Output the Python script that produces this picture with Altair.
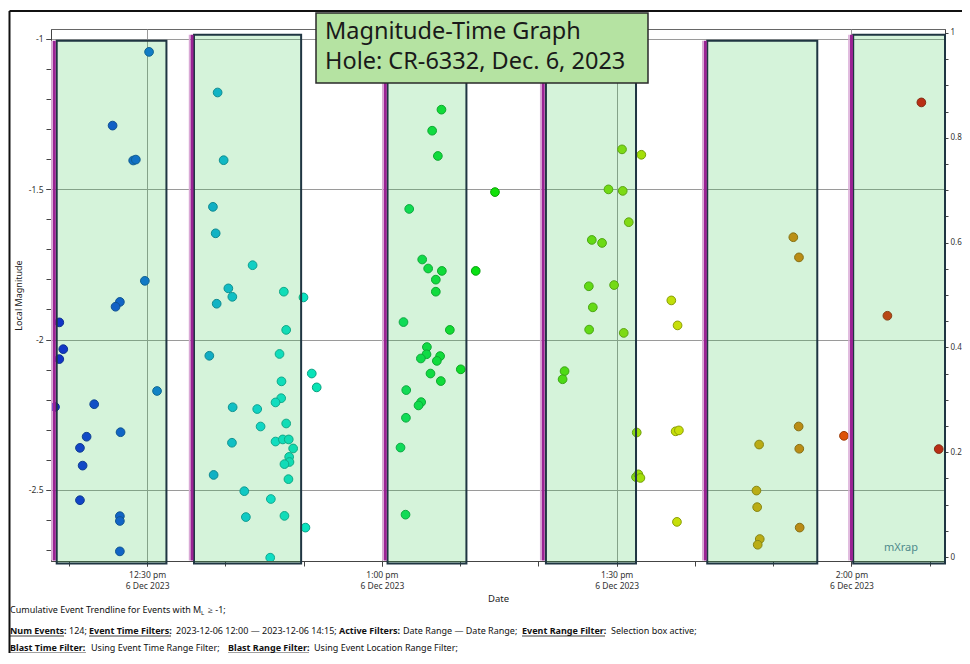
import altair as alt
import pandas as pd

# ---------------- data ----------------
# event times in minutes after 12:00 on 6 Dec 2023, and local magnitudes
event_minutes = [
    30.25, 25.59, 28.22, 28.56, 29.71, 26.52, 25.97, 18.78, 19.29, 18.78, 18.23, 31.27, 23.24,
    26.61, 22.27, 21.42, 21.76, 21.42, 26.52, 26.52, 26.52,
    39.01, 39.78, 38.41, 38.76, 43.48, 40.38, 40.89, 38.89, 47.47, 49.98, 47.77, 37.95, 46.92,
    47.17, 47.13, 46.41, 40.93, 44.07, 44.50, 47.77, 40.84, 46.41, 47.34, 48.10, 48.66, 48.15,
    48.19, 47.55, 48.06, 38.50, 42.42, 45.81, 42.62, 47.55, 45.73, 51.04, 51.67, 50.23,
    67.61, 66.42, 67.15, 63.49, 74.45, 65.15, 65.91, 67.66, 66.89, 66.89, 71.99, 62.76, 68.68,
    65.75, 65.70, 64.98, 67.44, 67.02, 70.08, 66.21, 67.53, 63.11, 65.02, 64.68, 63.07, 62.38, 63.02,
    90.68, 93.15, 88.95, 90.77, 91.54, 86.82, 88.13, 86.44, 89.67, 86.95, 96.98, 86.48, 90.90,
    97.78, 83.34, 83.09, 92.56, 97.53, 97.95, 92.47, 92.77, 93.03, 97.70,
    112.57, 113.29, 128.93, 124.59, 113.25, 113.33, 108.20, 119.04, 131.15, 107.86, 107.95,
    113.38, 108.28, 108.02,
]
event_magnitudes = [
    -1.044, -1.289, -1.405, -1.402, -1.805, -1.875, -1.891, -1.943, -2.032, -2.065, -2.224, -2.171, -2.215,
    -2.308, -2.323, -2.360, -2.419, -2.534, -2.587, -2.603, -2.704,
    -1.179, -1.404, -1.559, -1.647, -1.753, -1.830, -1.858, -1.881, -1.841, -1.860, -1.968, -2.054, -2.048,
    -2.139, -2.195, -2.209, -2.225, -2.231, -2.289, -2.279, -2.343, -2.339, -2.332, -2.332, -2.362, -2.390,
    -2.407, -2.414, -2.464, -2.450, -2.504, -2.530, -2.590, -2.586, -2.725, -2.113, -2.159, -2.625,
    -1.236, -1.306, -1.390, -1.566, -1.510, -1.734, -1.764, -1.772, -1.801, -1.841, -1.772, -1.942, -1.968,
    -2.025, -2.049, -2.063, -2.055, -2.071, -2.099, -2.113, -2.138, -2.168, -2.208, -2.219, -2.260, -2.359, -2.582,
    -1.368, -1.386, -1.501, -1.506, -1.610, -1.669, -1.679, -1.823, -1.819, -1.893, -1.870, -1.967, -1.978,
    -1.953, -2.105, -2.132, -2.309, -2.305, -2.302, -2.457, -2.448, -2.460, -2.606,
    -1.660, -1.727, -1.212, -1.921, -2.289, -2.363, -2.349, -2.320, -2.364, -2.502, -2.557,
    -2.625, -2.663, -2.682,
]

# blast times (magenta lines) and selection boxes (minutes after 12:00)
blast_minutes = [18.14, 35.74, 60.43, 80.61, 101.32, 120.0]
box_start = [18.45, 35.99, 60.72, 80.96, 101.57, 120.22]
box_end = [32.47, 49.68, 70.80, 92.47, 115.63, 131.95]
box_top = [-1.007, -0.987, -1.007, -1.007, -1.007, -0.987]
box_bottom = [-2.744] * 6
blast_bottom = [-2.734] * 6

x_domain = [17.72, 131.95]
y_domain = [-2.736, -0.968]
right_domain = [-0.0076, 1.0076]

x_minor_ticks = [20, 30, 40, 50, 60, 70, 80, 90, 100, 110, 120, 130]
x_label_minutes = [30, 60, 90, 120]
x_time_labels = ["12:30 pm", "1:00 pm", "1:30 pm", "2:00 pm"]
x_date_label = "6 Dec 2023"
y_label_values = [-1.0, -1.5, -2.0, -2.5]
y_minor_ticks = [round(-1.0 - 0.1 * i, 1) for i in range(18)]
right_ticks = [round(0.05 * i, 2) for i in range(21)]

title_lines = ["Magnitude-Time Graph", "Hole: CR-6332, Dec. 6, 2023"]

# ---------------- layout helpers ----------------
PX0, PY0 = 51, 29          # page position of plot origin
FONT = "Noto Sans"
def px(x):
    return x - PX0
def py(y):
    return y - PY0

one = pd.DataFrame({"k": [0]})

events = pd.DataFrame({"t": event_minutes, "mag": event_magnitudes})
boxes = pd.DataFrame({"x1": box_start, "x2": box_end, "y1": box_top, "y2": box_bottom})
blasts = pd.DataFrame({"t": blast_minutes, "top": box_top, "bottom": blast_bottom})

xscale = alt.Scale(domain=x_domain, nice=False, zero=False)
yscale = alt.Scale(domain=y_domain, nice=False, zero=False)

x_label_expr = " : ".join(
    f"datum.value === {m} ? ['{lab}', '{x_date_label}']" for m, lab in zip(x_label_minutes, x_time_labels)
) + " : ''"

x_axis = alt.Axis(
    values=x_label_minutes, labelExpr=x_label_expr, labelOverlap=False, labelFlush=False,
    labelFont=FONT, labelFontSize=8.5, labelLineHeight=11, labelColor="#333", labelPadding=4,
    tickSize=5, tickColor="#444", domainColor="#444", grid=True, gridColor="#9a9a9a",
    title="Date", titleFont=FONT, titleFontSize=9.5, titleFontWeight="normal", titleColor="#222",
    titlePadding=4, orient="bottom",
)
y_axis = alt.Axis(
    values=y_label_values, labelExpr="toString(datum.value)", labelOverlap=False, labelFlush=False,
    labelFont=FONT, labelFontSize=8.5, labelColor="#333", labelPadding=3,
    tickSize=5, tickColor="#444", domainColor="#444", grid=True, gridColor="#9a9a9a",
    title="Local Magnitude", titleFont=FONT, titleFontSize=9, titleFontWeight="normal", titleColor="#222",
    titlePadding=5, orient="left",
)
x_minor_axis = alt.Axis(values=x_minor_ticks, labels=False, grid=False, domain=False, tickSize=5,
                        tickColor="#444", title=None, orient="bottom")
y_minor_axis = alt.Axis(values=y_minor_ticks, labels=False, grid=False, domain=False, tickSize=5,
                        tickColor="#444", title=None, orient="left")

points = alt.Chart(events).mark_circle(size=76, opacity=1, strokeWidth=1, clip=True).encode(
    x=alt.X("t:Q", scale=xscale, axis=x_axis),
    y=alt.Y("mag:Q", scale=yscale, axis=y_axis),
    color=alt.Color("t:Q", scale=alt.Scale(domain=[18, 128.6], range=["hsl(240,92%,47%)", "hsl(0,92%,45%)"],
                                          interpolate="hsl-long", clamp=True), legend=None),
    stroke=alt.Stroke("t:Q", scale=alt.Scale(domain=[18, 128.6], range=["hsl(240,90%,34%)", "hsl(0,90%,32%)"],
                                            interpolate="hsl-long", clamp=True), legend=None),
)

minor = alt.Chart(events).mark_point(opacity=0).encode(
    x=alt.X("t:Q", scale=xscale, axis=x_minor_axis),
    y=alt.Y("mag:Q", scale=yscale, axis=y_minor_axis),
)

rects = alt.Chart(boxes).mark_rect(fill="#2dc346", fillOpacity=0.2, stroke="#1f3542", strokeWidth=2,
                                   strokeOpacity=1).encode(
    x=alt.X("x1:Q", scale=xscale, axis=None), x2="x2:Q",
    y=alt.Y("y1:Q", scale=yscale, axis=None), y2="y2:Q",
)

blast_glow = alt.Chart(blasts).mark_rule(color="#d9a9d6", strokeWidth=1.5, xOffset=-2.5).encode(
    x=alt.X("t:Q", scale=xscale, axis=None), y=alt.Y("top:Q", scale=yscale, axis=None), y2="bottom:Q",
)
blast_lines = alt.Chart(blasts).mark_rule(color="#9a2394", strokeWidth=3).encode(
    x=alt.X("t:Q", scale=xscale, axis=None), y=alt.Y("top:Q", scale=yscale, axis=None), y2="bottom:Q",
)

title_box = alt.Chart(one).mark_rect(fill="#b5e3a2", stroke="#2a2a2a", strokeWidth=1.5).encode(
    x=alt.value(px(316)), x2=alt.value(px(648)), y=alt.value(py(13)), y2=alt.value(py(83)),
)
title_text = [
    alt.Chart(one).mark_text(align="left", baseline="middle", font=FONT, fontSize=23.5, color="#1a1a1a").encode(
        x=alt.value(px(325)), y=alt.value(py(yy)), text=alt.value(t))
    for t, yy in zip(title_lines, [32, 62])
]

watermark = alt.Chart(one).mark_text(align="center", baseline="middle", font=FONT, fontSize=11,
                                     color="#4f8a8c").encode(
    x=alt.value(px(901)), y=alt.value(py(548)), text=alt.value("mXrap"))

frame = [
    alt.Chart(one).mark_rule(color="#111", strokeWidth=2).encode(
        x=alt.value(px(9.5)), x2=alt.value(px(9.5)), y=alt.value(py(11)), y2=alt.value(py(664))),
    alt.Chart(one).mark_rule(color="#111", strokeWidth=2).encode(
        x=alt.value(px(9.5)), x2=alt.value(px(962)), y=alt.value(py(11)), y2=alt.value(py(11))),
]

# footer: (text, page x, page y, weight, underline width)
L1, L2, L3 = 610, 631, 648
footer = [
    ("Cumulative Event Trendline for Events with M", 10, L1, "normal", 0),
    ("\u2265 -1;", 208, L1, "normal", 0),
    ("Num Events:", 10, L2, "bold", 54),
    ("124;", 69, L2, "normal", 0),
    ("Event Time Filters:", 89, L2, "bold", 82),
    ("2023-12-06 12:00 \u2014 2023-12-06 14:15;", 176, L2, "normal", 0),
    ("Active Filters:", 339, L2, "bold", 0),
    ("Date Range \u2014 Date Range;", 403, L2, "normal", 0),
    ("Event Range Filter:", 522, L2, "bold", 83),
    ("Selection box active;", 611, L2, "normal", 0),
    ("Blast Time Filter:", 10, L3, "bold", 76),
    ("Using Event Time Range Filter;", 91, L3, "normal", 0),
    ("Blast Range Filter:", 228, L3, "bold", 81),
    ("Using Event Location Range Filter;", 314, L3, "normal", 0),
]
footer_layers = []
for txt, fx, fy, w, ul in footer:
    footer_layers.append(
        alt.Chart(one).mark_text(align="left", baseline="middle", font=FONT, fontSize=9, fontWeight=w,
                                 color="#111").encode(x=alt.value(px(fx)), y=alt.value(py(fy)), text=alt.value(txt)))
    if ul:
        footer_layers.append(
            alt.Chart(one).mark_rule(color="#111", strokeWidth=0.8).encode(
                x=alt.value(px(fx)), x2=alt.value(px(fx + ul)), y=alt.value(py(fy + 5)), y2=alt.value(py(fy + 5))))
footer_layers.append(
    alt.Chart(one).mark_text(align="left", baseline="middle", font=FONT, fontSize=6, color="#111").encode(
        x=alt.value(px(201)), y=alt.value(py(L1 + 3)), text=alt.value("L")))

left = alt.layer(points, minor, rects, blast_glow, blast_lines, title_box, *title_text, watermark, *frame,
                 *footer_layers).resolve_axis(x="independent", y="independent")

right = alt.Chart(pd.DataFrame({"r": [0, 1]})).mark_point(opacity=0).encode(
    y=alt.Y("r:Q", scale=alt.Scale(domain=right_domain, nice=False, zero=False),
            axis=alt.Axis(orient="right", values=right_ticks,
                          labelExpr="round(datum.value * 100) % 20 === 0 ? toString(datum.value) : ''",
                          labelOverlap=False, labelFlush=False, labelFont=FONT, labelFontSize=8,
                          labelColor="#333", labelPadding=2, tickSize=3, tickColor="#444",
                          domainColor="#444", grid=False, title=None)),
)

chart = alt.layer(left, right).resolve_scale(y="independent").properties(
    width=894, height=532,
    padding={"left": 43, "top": 21, "right": 17, "bottom": 92},
    autosize=alt.AutoSizeParams(type="none"),
    background="white",
).configure_view(stroke="#666", strokeWidth=1)

chart.save("out.html", embed_options={"renderer": "svg", "actions": False})
